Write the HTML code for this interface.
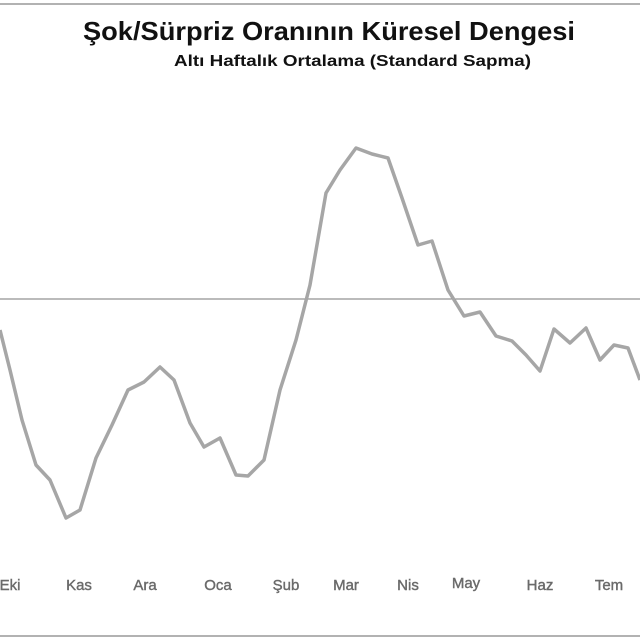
<!DOCTYPE html>
<html><head><meta charset="utf-8"><style>
body{margin:0;background:#fff}
svg{display:block}
</style></head><body>
<svg width="640" height="640" viewBox="0 0 640 640" xmlns="http://www.w3.org/2000/svg">
<rect width="640" height="640" fill="#fff"/>
<line x1="0" y1="4" x2="640" y2="4" stroke="#999" stroke-width="1.5"/>
<line x1="0" y1="636" x2="640" y2="636" stroke="#999" stroke-width="1.5"/>
<text x="83" y="40" textLength="492" lengthAdjust="spacingAndGlyphs" font-family="Liberation Sans, sans-serif" font-weight="bold" font-size="26" fill="#111">Şok/Sürpriz Oranının Küresel Dengesi</text>
<text x="174" y="66" textLength="357" lengthAdjust="spacingAndGlyphs" font-family="Liberation Sans, sans-serif" font-weight="bold" font-size="16" fill="#111">Altı Haftalık Ortalama (Standard Sapma)</text>
<line x1="0" y1="299" x2="640" y2="299" stroke="#777" stroke-width="1"/>
<polyline fill="none" stroke="#a6a6a6" stroke-width="3.5" stroke-linejoin="round" points="0,330 10,370 22,420 36,465 50,480 66,518 80,510 96,458 112,425 128,390 144,382 160,367 174,380 190,423 204,447 220,438 236,475 248,476 264,460 280,390 296,340 310,285 326,193 340,170 356,148 372,154 388,158 402,198 418,245 432,241 448,290 464,316 480,312 496,336 512,341 526,355 540,371 554,329 570,343 586,328 600,360 614,345 628,348 640,380"/>
<g font-family="Liberation Sans, sans-serif" font-size="15" fill="#6a6a6a" stroke="#6a6a6a" stroke-width="0.4">
<text x="10" y="590" text-anchor="middle">Eki</text>
<text x="79" y="590" text-anchor="middle">Kas</text>
<text x="145" y="590" text-anchor="middle">Ara</text>
<text x="218" y="590" text-anchor="middle">Oca</text>
<text x="286" y="590" text-anchor="middle">Şub</text>
<text x="346" y="590" text-anchor="middle">Mar</text>
<text x="408" y="590" text-anchor="middle">Nis</text>
<text x="466" y="588" text-anchor="middle">May</text>
<text x="540" y="590" text-anchor="middle">Haz</text>
<text x="609" y="590" text-anchor="middle">Tem</text>
</g>
</svg>
</body></html>
